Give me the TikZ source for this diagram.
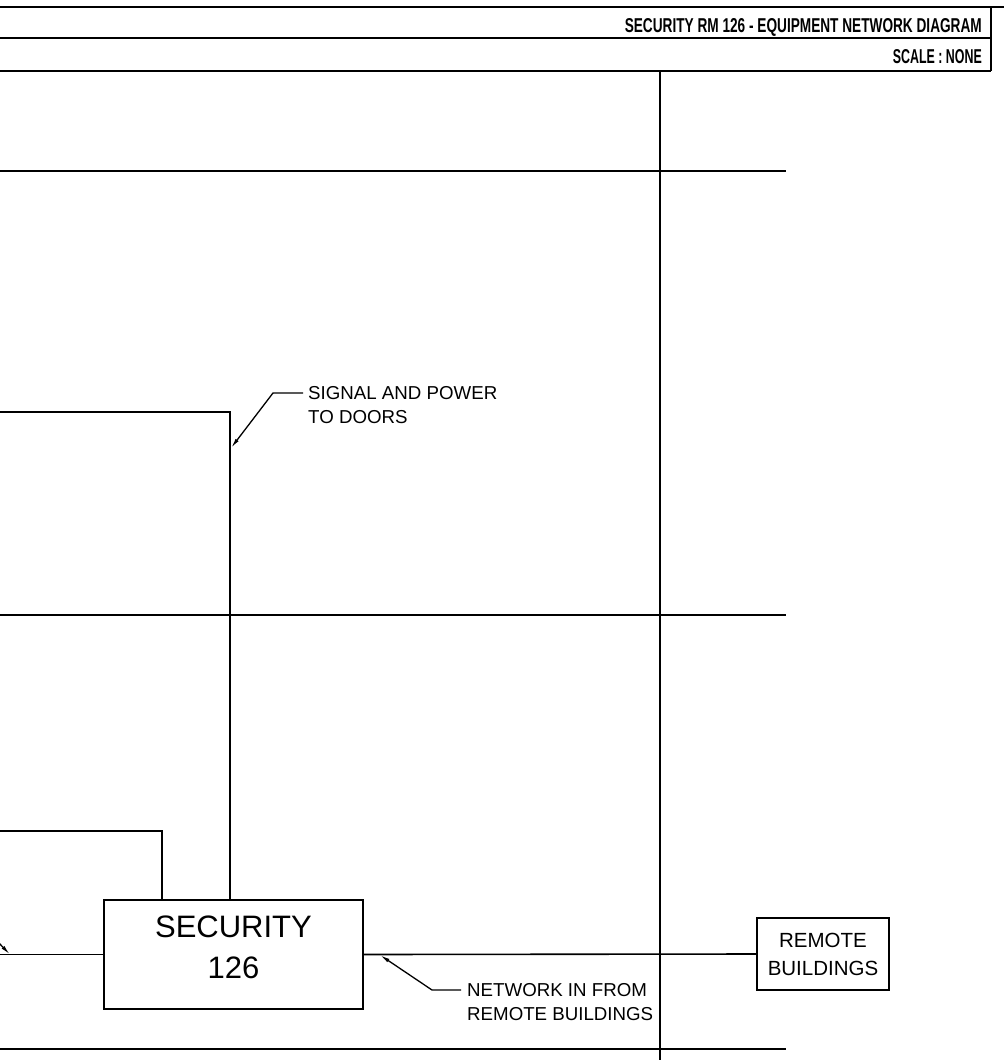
\documentclass[tikz,border=0pt]{standalone}
\usepackage{fontspec}
\setmainfont{Liberation Sans}
\usepackage{graphicx}
\usetikzlibrary{arrows.meta,calc}
\begin{document}
\begin{tikzpicture}[x=1pt,y=-1pt,
  gridline/.style={line width=2.2pt},
  frameline/.style={line width=2.4pt},
  wire/.style={line width=1.6pt},
  leader/.style={line width=1.3pt},
  tipped/.style={-{Latex[length=10pt,width=3.8pt]}},
  boxnode/.style={draw,line width=1.8pt,inner sep=0pt,align=center},
  lbl/.style={font=\fontsize{18.7}{24.5}\selectfont,align=left,inner sep=0pt},
  ttl/.style={inner sep=0pt,font=\fontsize{19.5}{20}\selectfont\bfseries}]
\useasboundingbox (0,0) rectangle (1004,1060);
% title block
\draw[frameline] (0,7) -- (1004,7);
\draw[frameline] (0,38) -- (991,38);
\draw[frameline] (0,71) -- (991,71);
\draw[frameline] (991,7) -- (991,71);
\node[ttl,anchor=base east] (title) at (982,32) {\resizebox{357pt}{14pt}{SECURITY RM 126 - EQUIPMENT NETWORK DIAGRAM}};
\node[ttl,anchor=base east] (scale) at (982,63) {\resizebox{89pt}{14pt}{SCALE : NONE}};
% grid lines
\draw[frameline] (660,71) -- (660,1060);
\draw[gridline] (0,171) -- (786,171);
\draw[gridline] (0,615) -- (786,615);
\draw[gridline] (0,1049) -- (786,1049);
% boxes
\node[boxnode,minimum width=259pt,minimum height=109pt,font=\fontsize{31}{41}\selectfont] (sec) at (233.5,954.5) {SECURITY\\126\rule[-14pt]{0pt}{14pt}};
\node[boxnode,minimum width=132pt,minimum height=72pt,font=\fontsize{20.5}{28}\selectfont] (remote) at (823,954) {REMOTE\\BUILDINGS};
% connectors
\coordinate (w1) at (0,831);
\coordinate (w2) at (0,412);
\coordinate (w3) at (0,954.5);
\draw[wire] (w1) -| ([xshift=59pt]sec.north west);
\draw[wire] (w2) -| ([xshift=127pt]sec.north west);
\draw[wire] (w3) -- (sec.west);
\draw[wire] (sec.east) -- (remote.west);
% labels and leaders
\node[lbl,anchor=north west] (sig) at (308,386) {SIGNAL AND POWER\\TO DOORS};
\node[lbl,anchor=north west] (net) at (467,983) {NETWORK IN FROM\\REMOTE BUILDINGS};
\coordinate (sigstart) at (303,393);
\coordinate (sigknee) at (273,393);
\coordinate (sigtip) at (231,448);
\draw[leader,tipped] (sigstart) -- (sigknee) -- (sigtip);
\coordinate (netstart) at (461,990);
\coordinate (netknee) at (432,990);
\coordinate (nettip) at (380,955);
\draw[leader,tipped] (netstart) -- (netknee) -- (nettip);
\coordinate (lstart) at (-3,941);
\coordinate (ltip) at (10,954.5);
\draw[leader,tipped] (lstart) -- (ltip);
\end{tikzpicture}
\end{document}
